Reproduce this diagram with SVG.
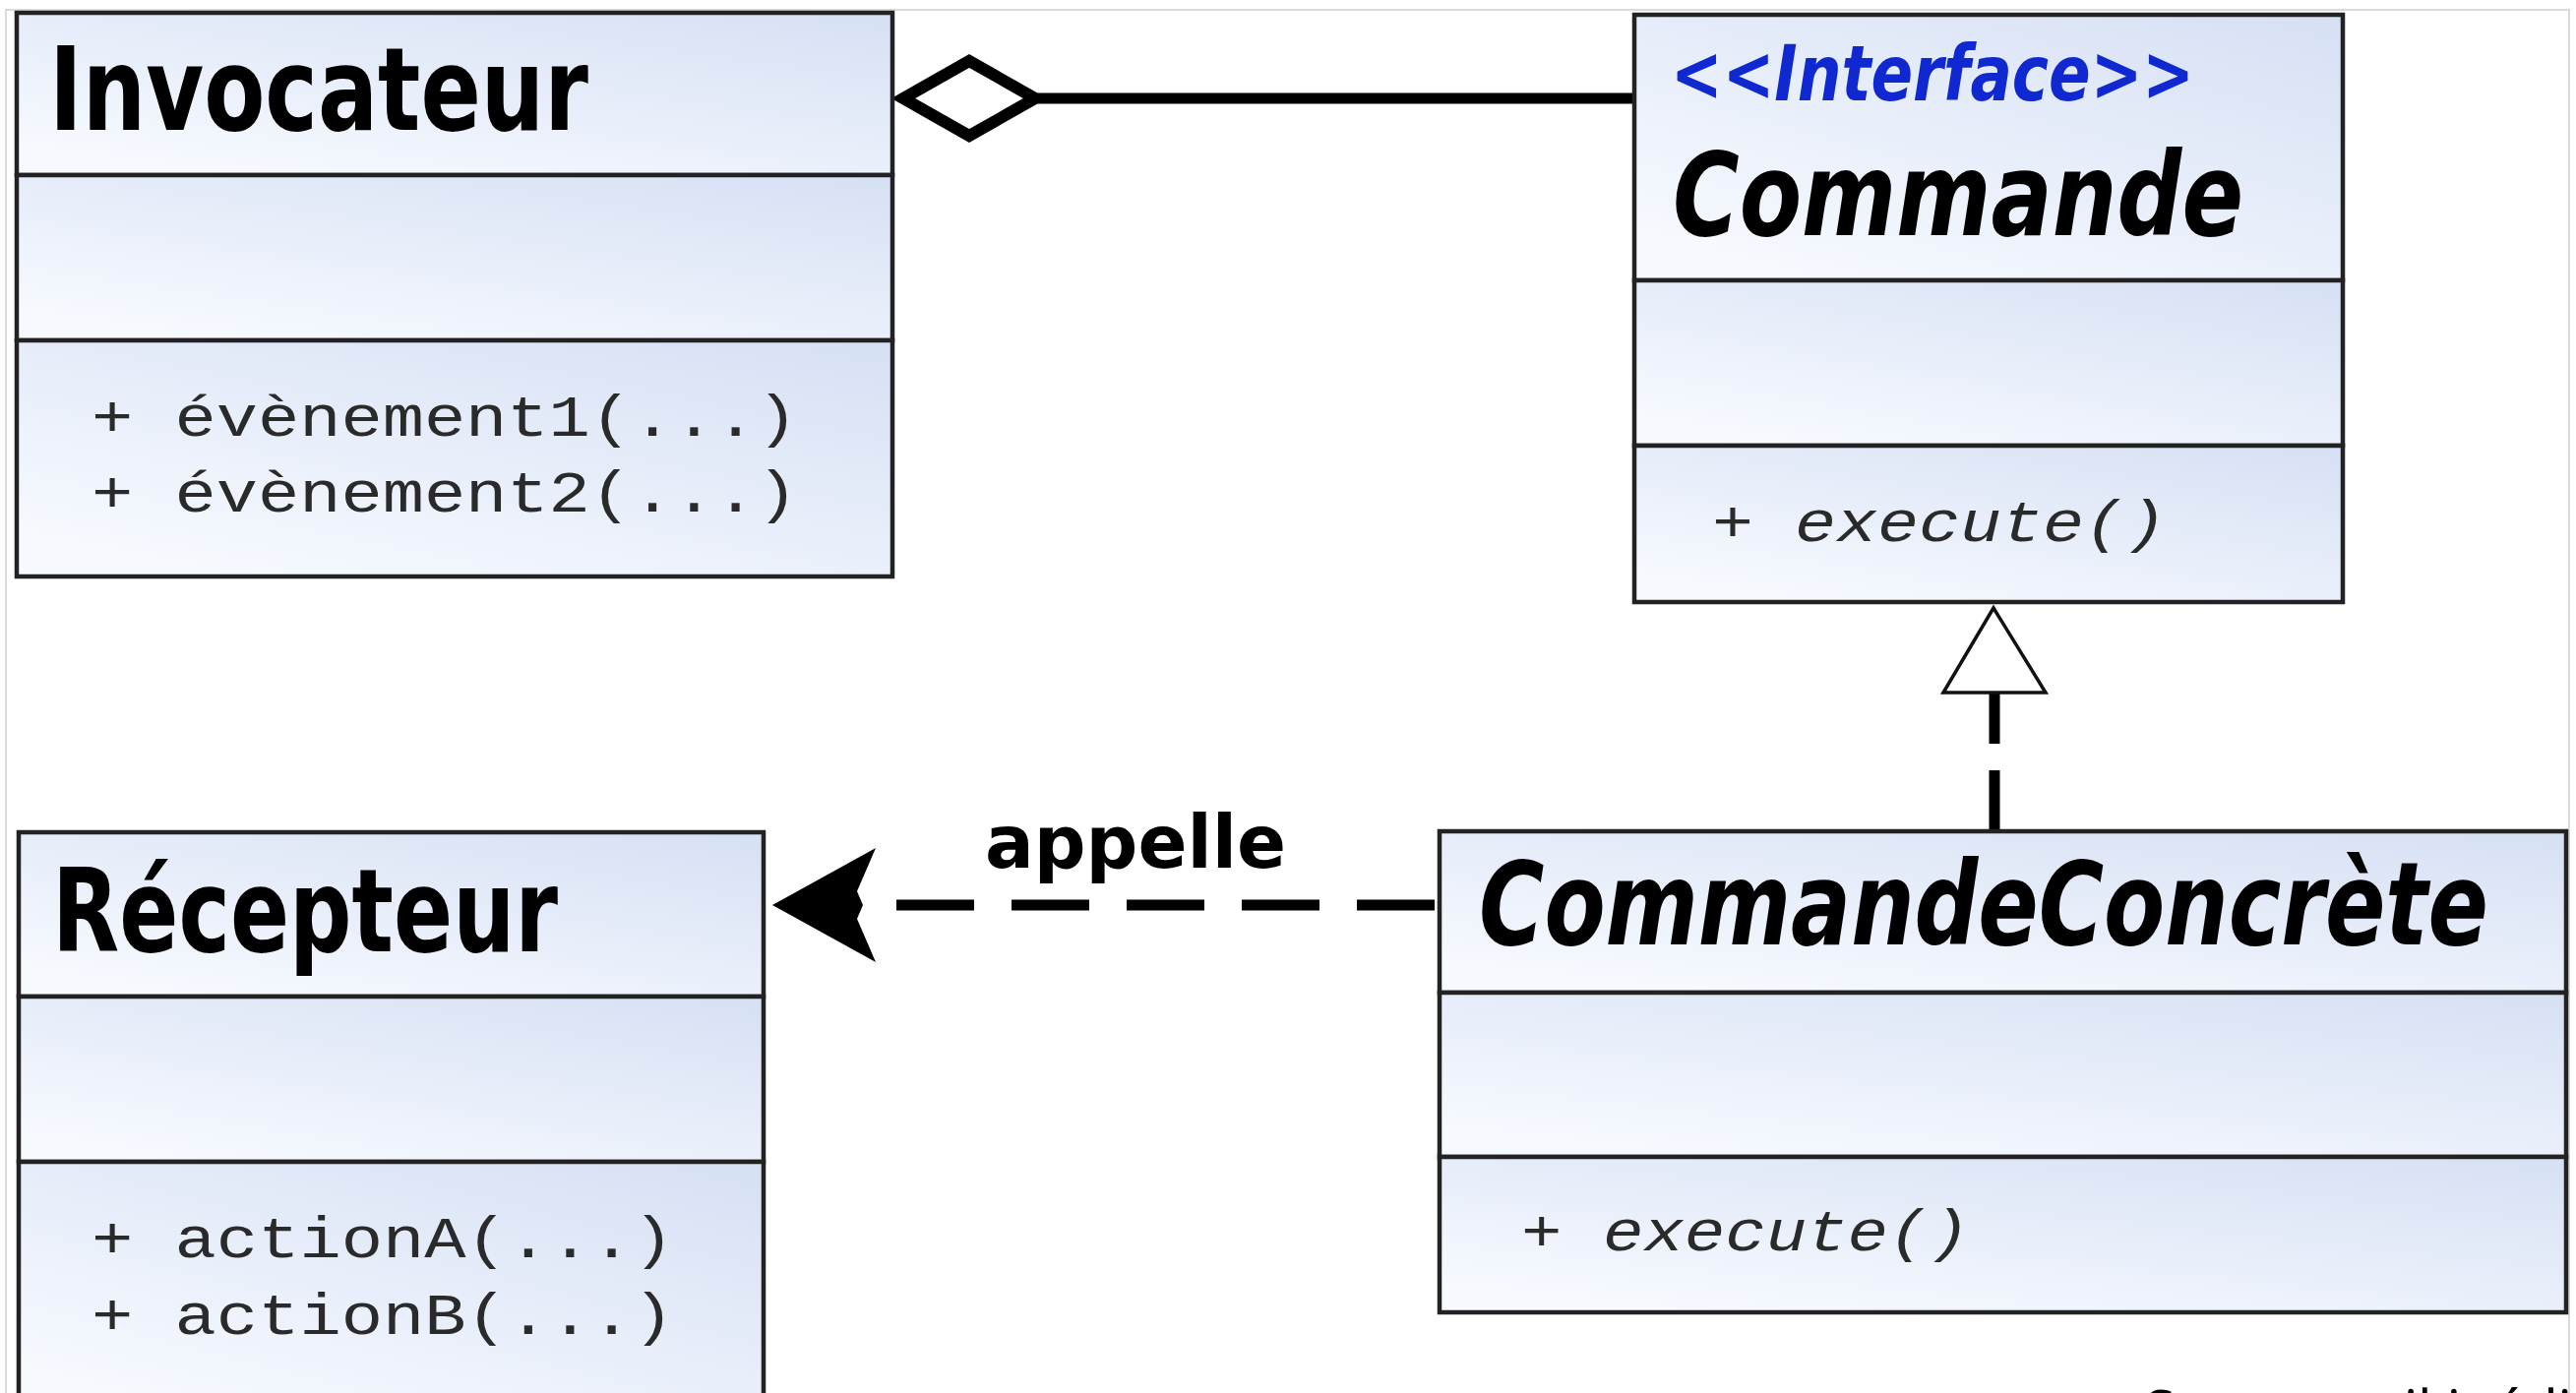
<svg xmlns="http://www.w3.org/2000/svg" width="2618" height="1416" viewBox="0 0 2618 1416">
<defs>
<linearGradient id="cg" x1="1" y1="0" x2="0.25" y2="1">
<stop offset="0" stop-color="#d6e0f4"/>
<stop offset="1" stop-color="#f6f9fe"/>
</linearGradient>
<style>
.cmp{fill:url(#cg);stroke:#222;stroke-width:4.5}
.name{font-family:"DejaVu Sans Condensed","DejaVu Sans",sans-serif;font-weight:bold;font-size:118px;fill:#000}
.it{font-style:italic}
.stereo{font-family:"DejaVu Sans Condensed","DejaVu Sans",sans-serif;font-weight:bold;font-style:italic;font-size:78px;fill:#1028d0}
.op{font-family:"Liberation Mono","DejaVu Sans Mono",monospace;font-size:60px;fill:#2a2a2a}
.line{fill:none;stroke:#000;stroke-width:11}
.dash{fill:none;stroke:#000;stroke-width:11}
.lbl{font-family:"DejaVu Sans",sans-serif;font-weight:bold;font-size:74px;fill:#000}
.src{font-family:"Noto Sans","Open Sans",sans-serif;font-size:55px;fill:#000}
</style>
</defs>
<rect x="0" y="0" width="2618" height="1416" fill="#fff"/>
<rect x="6" y="10" width="2605" height="1440" fill="#fff" stroke="#dadada" stroke-width="2"/>

<g id="connectors">
<g id="aggregation">
<line class="line" x1="1050" y1="100" x2="1661" y2="100"/>
<path d="M918,100 L985,62 L1052,100 L985,138 Z" fill="#fff" stroke="#000" stroke-width="12" stroke-linejoin="miter"/>
</g>
<g id="realization">
<path class="dash" d="M2027,845 L2027,704" stroke-dasharray="62 27"/>
<path d="M2026,618 L2079,704 L1975,704 Z" fill="#fff" stroke="#111" stroke-width="3.5" stroke-linejoin="miter"/>
</g>
<g id="dependency">
<path class="dash" d="M1458,920 L884,920" stroke-dasharray="79 38"/>
<path d="M785,920 L890,862 L871,906 L877,920 L871,934 L890,978 Z" fill="#000"/>
<text class="lbl" x="1001" y="882" textLength="306" lengthAdjust="spacingAndGlyphs">appelle</text>
</g>
</g>

<g id="Invocateur">
<rect class="cmp" x="17" y="13" width="890" height="165"/>
<rect class="cmp" x="17" y="178" width="890" height="168"/>
<rect class="cmp" x="17" y="346" width="890" height="240"/>
<text class="name" x="50" y="132" textLength="548" lengthAdjust="spacingAndGlyphs">Invocateur</text>
<text class="op" x="93" y="443" textLength="718" lengthAdjust="spacingAndGlyphs">+ évènement1(...)</text>
<text class="op" x="93" y="520" textLength="718" lengthAdjust="spacingAndGlyphs">+ évènement2(...)</text>
</g>

<g id="Commande">
<rect class="cmp" x="1661" y="15" width="720" height="270"/>
<rect class="cmp" x="1661" y="285" width="720" height="168"/>
<rect class="cmp" x="1661" y="453" width="720" height="159"/>
<text class="stereo" x="1698" y="102" textLength="532" lengthAdjust="spacingAndGlyphs">&lt;&lt;Interface&gt;&gt;</text>
<text class="name it" x="1700" y="239" textLength="580" lengthAdjust="spacingAndGlyphs">Commande</text>
<text class="op it" x="1740" y="550" textLength="462" lengthAdjust="spacingAndGlyphs">+ execute()</text>
</g>

<g id="Recepteur">
<rect class="cmp" x="19" y="846" width="757" height="167"/>
<rect class="cmp" x="19" y="1013" width="757" height="168"/>
<rect class="cmp" x="19" y="1181" width="757" height="259"/>
<text class="name" x="53" y="967" textLength="514" lengthAdjust="spacingAndGlyphs">Récepteur</text>
<text class="op" x="93" y="1278" textLength="592" lengthAdjust="spacingAndGlyphs">+ actionA(...)</text>
<text class="op" x="93" y="1356" textLength="592" lengthAdjust="spacingAndGlyphs">+ actionB(...)</text>
</g>

<g id="CommandeConcrete">
<rect class="cmp" x="1463" y="845" width="1145" height="164"/>
<rect class="cmp" x="1463" y="1009" width="1145" height="167"/>
<rect class="cmp" x="1463" y="1176" width="1145" height="158"/>
<text class="name it" x="1503" y="960" textLength="1026" lengthAdjust="spacingAndGlyphs">CommandeConcrète</text>
<text class="op it" x="1546" y="1271" textLength="456" lengthAdjust="spacingAndGlyphs">+ execute()</text>
</g>

<text class="src" x="2180" y="1452">Source : wikipédia</text>
</svg>
